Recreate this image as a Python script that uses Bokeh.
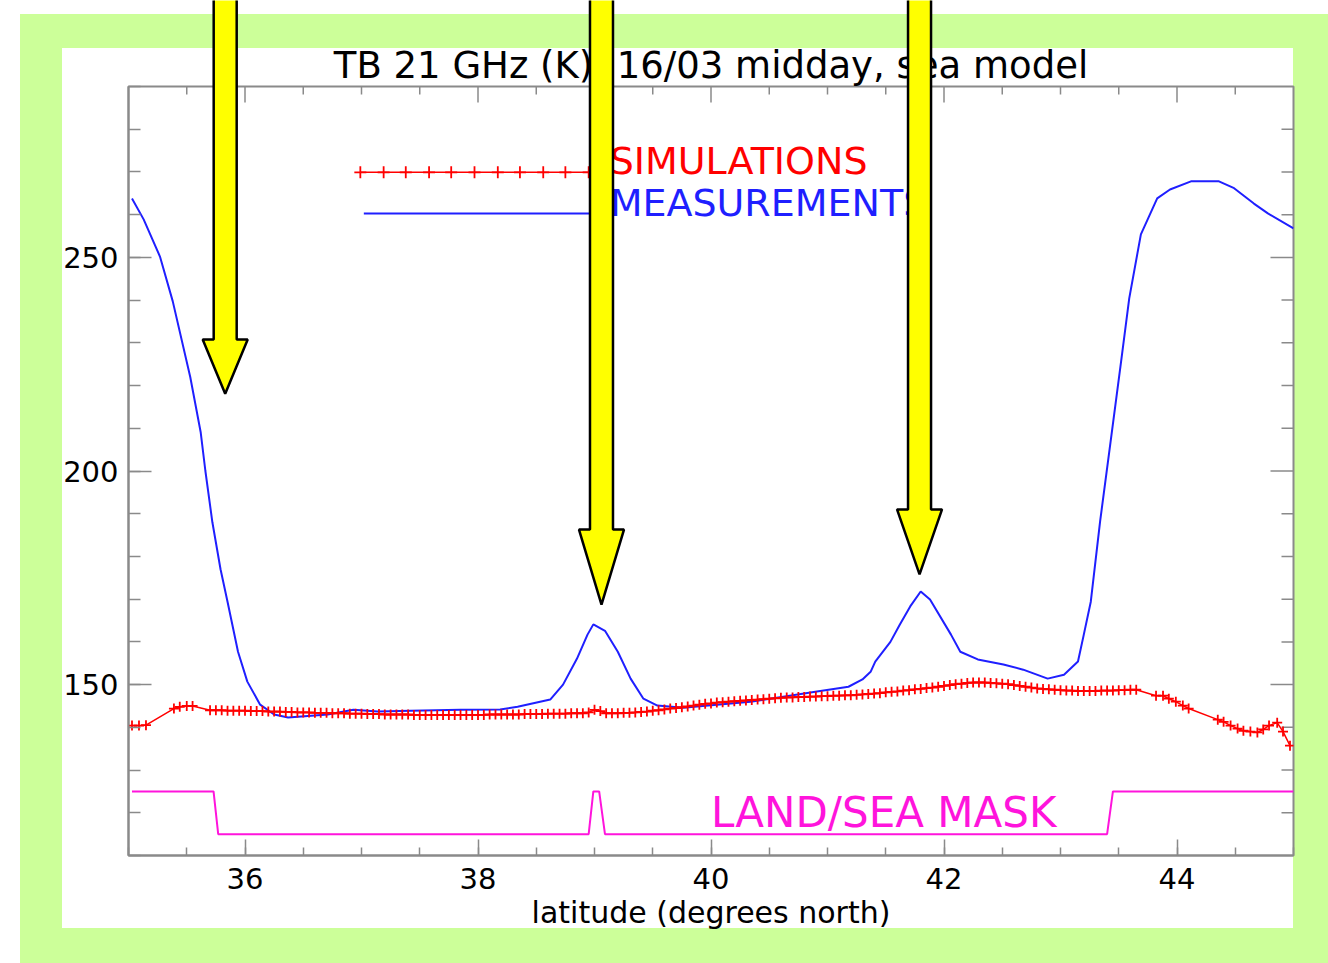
from bokeh.plotting import figure
from bokeh.layouts import column
from bokeh.models import Range1d, LinearAxis, SingleIntervalTicker, Label
from bokeh.embed import file_html
from bokeh.resources import INLINE

# ---------------- data ----------------
meas_lat = [35.03, 35.13, 35.27, 35.38, 35.53, 35.62, 35.66, 35.72, 35.79, 35.85,
            35.94, 36.02, 36.13, 36.25, 36.37, 36.71, 36.93, 37.14, 37.42, 37.85,
            38.19, 38.34, 38.62, 38.73, 38.85, 38.94, 38.99, 39.09, 39.20, 39.31,
            39.42, 39.54, 39.76, 40.34, 40.91, 41.18, 41.30, 41.37, 41.41, 41.54,
            41.62, 41.71, 41.80, 41.88, 42.06, 42.14, 42.29, 42.51, 42.68, 42.89,
            43.03, 43.15, 43.20, 43.26, 43.34, 43.43, 43.52, 43.59, 43.69, 43.83,
            43.94, 44.12, 44.36, 44.49, 44.66, 44.78, 45.00]
meas_tb = [263.8, 258.9, 250.2, 239.7, 222.0, 209.0, 200.0, 188.0, 177.0, 169.4,
           157.7, 150.7, 145.3, 143.0, 142.3, 143.0, 144.1, 143.7, 143.9, 144.1,
           144.2, 144.8, 146.5, 150.0, 156.1, 161.7, 164.1, 162.6, 157.7, 151.4,
           146.7, 145.1, 144.6, 146.0, 148.4, 149.5, 151.2, 153.0, 155.4, 160.0,
           164.0, 168.3, 171.8, 169.9, 161.7, 157.7, 155.9, 154.7, 153.5, 151.4,
           152.3, 155.4, 161.7, 169.4, 188.2, 206.9, 225.6, 240.4, 255.4, 263.8,
           265.9, 267.8, 267.8, 266.2, 262.6, 260.3, 256.8]

sim_lat = [35.03, 35.09, 35.15, 35.39, 35.44, 35.50, 35.55,
           35.70, 35.75, 35.80, 35.85, 35.90, 35.95, 36.00, 36.05, 36.10, 36.15,
           36.20, 36.25, 36.30, 36.35, 36.40, 36.45, 36.50, 36.55, 36.60, 36.65,
           36.70, 36.75, 36.80, 36.85, 36.90, 36.95, 37.00, 37.05, 37.10, 37.15,
           37.20, 37.25, 37.30, 37.35, 37.40, 37.45, 37.50, 37.55, 37.60, 37.65,
           37.70, 37.75, 37.80, 37.85, 37.90, 37.95, 38.00, 38.05, 38.10, 38.15,
           38.20, 38.25, 38.30, 38.35, 38.40, 38.45, 38.50, 38.55, 38.60, 38.65,
           38.70, 38.75, 38.80, 38.85, 38.90, 38.95, 39.00, 39.05, 39.10, 39.15,
           39.20, 39.25, 39.30, 39.35, 39.40, 39.45, 39.50, 39.55, 39.60, 39.65,
           39.70, 39.75, 39.80, 39.85, 39.90, 39.95, 40.00, 40.05, 40.10, 40.15,
           40.20, 40.25, 40.30, 40.35, 40.40, 40.45, 40.50, 40.55, 40.60, 40.65,
           40.70, 40.75, 40.80, 40.85, 40.90, 40.95, 41.00, 41.05, 41.10, 41.15,
           41.20, 41.25, 41.30, 41.35, 41.40, 41.45, 41.50, 41.55, 41.60, 41.65,
           41.70, 41.75, 41.80, 41.85, 41.90, 41.95, 42.00, 42.05, 42.10, 42.15,
           42.20, 42.25, 42.30, 42.35, 42.40, 42.45, 42.50, 42.55, 42.60, 42.65,
           42.70, 42.75, 42.80, 42.85, 42.90, 42.95, 43.00, 43.05, 43.10, 43.15,
           43.20, 43.25, 43.30, 43.35, 43.40, 43.45, 43.50, 43.55, 43.60, 43.65,
           43.82, 43.88, 43.93, 43.99, 44.05, 44.10, 44.35, 44.40, 44.46, 44.52,
           44.57, 44.63, 44.69, 44.74, 44.79, 44.86, 44.91, 44.97]
sim_tb = [140.4, 140.4, 140.5, 144.4, 144.8, 145.0, 145.0,
          144.0, 144.0, 144.0, 143.9, 143.9, 143.9, 143.9, 143.8, 143.8, 143.8,
          143.7, 143.7, 143.7, 143.6, 143.6, 143.5, 143.5, 143.5, 143.4, 143.4,
          143.4, 143.3, 143.3, 143.3, 143.2, 143.2, 143.2, 143.1, 143.1, 143.1,
          143.0, 143.0, 143.0, 143.0, 143.0, 142.9, 142.9, 142.9, 142.9, 142.9,
          142.9, 142.9, 142.9, 142.9, 142.9, 142.9, 142.9, 142.9, 143.0, 143.0,
          143.0, 143.0, 143.0, 143.0, 143.1, 143.1, 143.1, 143.1, 143.2, 143.2,
          143.2, 143.2, 143.3, 143.3, 143.3, 143.5, 144.1, 143.8, 143.3, 143.3,
          143.3, 143.4, 143.4, 143.5, 143.6, 143.7, 143.9, 144.0, 144.2, 144.4,
          144.5, 144.7, 144.9, 145.1, 145.3, 145.5, 145.6, 145.8, 145.9, 146.0,
          146.1, 146.2, 146.3, 146.4, 146.5, 146.6, 146.7, 146.8, 146.9, 147.0,
          147.0, 147.1, 147.1, 147.2, 147.2, 147.3, 147.3, 147.4, 147.4, 147.5,
          147.5, 147.6, 147.7, 147.8, 147.9, 148.0, 148.2, 148.3, 148.4, 148.6,
          148.7, 148.9, 149.0, 149.2, 149.3, 149.5, 149.7, 149.9, 150.1, 150.2,
          150.4, 150.5, 150.5, 150.5, 150.4, 150.3, 150.2, 150.1, 149.9, 149.7,
          149.5, 149.3, 149.1, 149.0, 148.9, 148.8, 148.7, 148.6, 148.6, 148.5,
          148.5, 148.5, 148.5, 148.6, 148.6, 148.6, 148.7, 148.7, 148.8, 148.8,
          147.4, 147.4, 146.7, 146.0, 145.1, 144.4, 141.8, 141.3, 140.4, 139.7,
          139.2, 139.0, 138.8, 139.5, 140.4, 141.1, 139.0, 135.7]

mask_lat = [35.03, 35.73, 35.77, 38.95, 38.99, 39.04, 39.09, 43.40, 43.45, 45.00]
mask_val = [125, 125, 115, 115, 125, 125, 115, 115, 125, 125]

legend_sim_lat = [36.99, 37.19, 37.38, 37.58, 37.77, 37.97, 38.17, 38.36, 38.56, 38.75, 38.95]
legend_sim_tb = [269.9] * 11
legend_meas_lat = [37.02, 38.97]
legend_meas_tb = [260.3, 260.3]

arrow_lat = [35.83, 39.06, 41.79]
arrow_head_top = [230.8, 186.3, 191.0]
arrow_tip = [218.1, 168.7, 175.8]

x_top_major = [36, 38, 40, 42, 44]
x_top_minor = [35.5, 36.5, 37, 37.5, 38.5, 39, 39.5, 40.5, 41, 41.5, 42.5, 43, 43.5, 44.5]
y_right_major = [150, 200, 250]
y_right_minor = [120, 130, 140, 160, 170, 180, 190, 210, 220, 230, 240, 260, 270, 280]

title_text = "TB 21 GHz (K), 16/03 midday, sea model"
x_label = "latitude (degrees north)"

FONT = "DejaVu Sans"
AXIS_GRAY = "#8a8a8a"
RED = "#ff0000"
BLUE = "#1f1fff"
MAGENTA = "#ff14dc"

W, H = 1328, 963
X0, X1 = 35, 45
Y0, Y1 = 110, 290
FL, FT, FR, FB = 128, 86, 1293, 855           # frame edges on the page
PX_PER_X = (FR - FL) / (X1 - X0)
PX_PER_Y = (FB - FT) / (Y1 - Y0)

# ---------------- main chart ----------------
p = figure(width=W, height=H, x_range=Range1d(X0, X1), y_range=Range1d(Y0, Y1),
           output_backend="svg", toolbar_location=None, title=title_text,
           x_axis_type=None, y_axis_type=None,
           min_border_left=FL, min_border_right=W - FR,
           min_border_top=FT, min_border_bottom=H - FB)
p.border_fill_color = None
p.background_fill_color = "white"
p.outline_line_color = AXIS_GRAY
p.outline_line_width = 2
p.styles = {
    "background": ("linear-gradient(#ffffff, #ffffff) 62px 48px / 1231px 880px no-repeat, "
                   "linear-gradient(#ccff99, #ccff99) 20px 14px / 1308px 949px no-repeat, "
                   "#ffffff"),
}

p.title.text_font = FONT
p.title.text_font_size = "37px"
p.title.text_font_style = "normal"
p.title.text_color = "black"
p.title.align = "center"
p.title.standoff = 0


def style_axis(ax, major_in, minor_in):
    ax.axis_line_color = AXIS_GRAY
    ax.axis_line_width = 2
    ax.major_tick_line_color = AXIS_GRAY
    ax.minor_tick_line_color = AXIS_GRAY
    ax.major_tick_line_width = 1.5
    ax.minor_tick_line_width = 1.5
    ax.major_tick_in = major_in
    ax.major_tick_out = 0
    ax.minor_tick_in = minor_in
    ax.minor_tick_out = 0
    ax.major_label_text_font = FONT
    ax.major_label_text_font_size = "29px"
    ax.major_label_text_color = "black"


xb = LinearAxis(ticker=SingleIntervalTicker(interval=2, num_minor_ticks=4),
                axis_label=x_label)
style_axis(xb, 16, 8)
xb.major_label_standoff = 12
xb.axis_label_text_font = FONT
xb.axis_label_text_font_size = "30px"
xb.axis_label_text_font_style = "normal"
xb.axis_label_text_color = "black"
xb.axis_label_standoff = 3
p.add_layout(xb, "below")

yl = LinearAxis(ticker=SingleIntervalTicker(interval=50, num_minor_ticks=5))
style_axis(yl, 23, 12)
yl.major_label_standoff = 10
p.add_layout(yl, "left")

# mirrored ticks on the top and right edges (as in the original)
p.segment(x0=x_top_major, y0=[Y1] * len(x_top_major), x1=x_top_major,
          y1=[Y1 - 16 / PX_PER_Y] * len(x_top_major), line_color=AXIS_GRAY, line_width=1.5)
p.segment(x0=x_top_minor, y0=[Y1] * len(x_top_minor), x1=x_top_minor,
          y1=[Y1 - 8 / PX_PER_Y] * len(x_top_minor), line_color=AXIS_GRAY, line_width=1.5)
p.segment(x0=[X1] * len(y_right_major), y0=y_right_major,
          x1=[X1 - 23 / PX_PER_X] * len(y_right_major), y1=y_right_major,
          line_color=AXIS_GRAY, line_width=1.5)
p.segment(x0=[X1] * len(y_right_minor), y0=y_right_minor,
          x1=[X1 - 12 / PX_PER_X] * len(y_right_minor), y1=y_right_minor,
          line_color=AXIS_GRAY, line_width=1.5)

# data series
p.line(mask_lat, mask_val, line_color=MAGENTA, line_width=2)
p.line(meas_lat, meas_tb, line_color=BLUE, line_width=2)
p.line(sim_lat, sim_tb, line_color=RED, line_width=1.5)
p.scatter(sim_lat, sim_tb, marker="cross", size=10, line_color=RED, line_width=1.8)

# legend drawn as in the original
p.line(legend_sim_lat, legend_sim_tb, line_color=RED, line_width=1.5)
p.scatter(legend_sim_lat, legend_sim_tb, marker="cross", size=12, line_color=RED,
          line_width=1.8)
p.line(legend_meas_lat, legend_meas_tb, line_color=BLUE, line_width=2)

p.add_layout(Label(x=39.13, y=272.6, text="SIMULATIONS", text_font=FONT,
                   text_font_size="38px", text_color=RED,
                   text_baseline="middle", text_align="left"))
p.add_layout(Label(x=39.13, y=262.8, text="MEASUREMENTS", text_font=FONT,
                   text_font_size="38px", text_color=BLUE,
                   text_baseline="middle", text_align="left"))
p.add_layout(Label(x=40.0, y=120.1, text="LAND/SEA MASK", text_font=FONT,
                   text_font_size="42px", text_color=MAGENTA,
                   text_baseline="middle", text_align="left"))

# ---------------- transparent overlay for the yellow arrows ----------------
# same horizontal frame as the main chart, full height so arrows can leave the frame
ov_y = (Y0 - (H - FB) / PX_PER_Y, Y1 + FT / PX_PER_Y)
p_ov = figure(width=W, height=H, x_range=Range1d(X0, X1), y_range=Range1d(*ov_y),
              output_backend="svg", toolbar_location=None, title=None,
              x_axis_type=None, y_axis_type=None,
              min_border_left=FL, min_border_right=W - FR,
              min_border_top=0, min_border_bottom=0)
p_ov.border_fill_color = None
p_ov.background_fill_color = None
p_ov.outline_line_color = None
p_ov.styles = {"position": "absolute", "top": "0px", "left": "0px",
               "pointer-events": "none"}

shaft_half = 11.5 / PX_PER_X
head_half = 22.5 / PX_PER_X
top_val = ov_y[1] + 5
axs, ays = [], []
for cx, ht, tip in zip(arrow_lat, arrow_head_top, arrow_tip):
    axs.append([cx - shaft_half, cx + shaft_half, cx + shaft_half, cx + head_half, cx,
                cx - head_half, cx - shaft_half])
    ays.append([top_val, top_val, ht, ht, tip, ht, ht])
p_ov.patches(axs, ays, fill_color="#ffff00", line_color="black", line_width=2.5)

layout = column(p, p_ov, styles={"position": "relative"})

open("out.html", "w").write(file_html(layout, INLINE))
